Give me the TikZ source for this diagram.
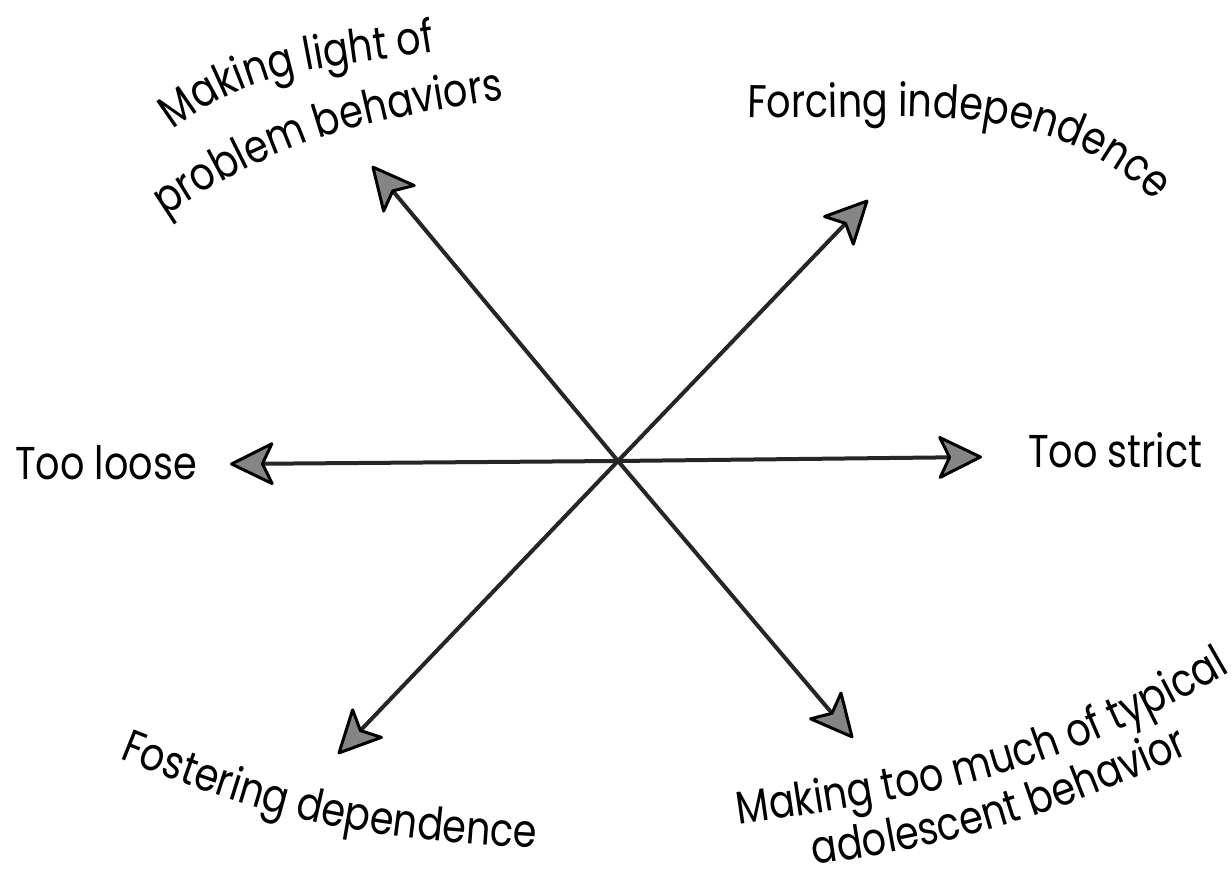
\documentclass[tikz,border=0pt]{standalone}
\usepackage{fontspec}
\newfontfamily\lblfont[FakeStretch=0.83]{Poppins}
\usetikzlibrary{arrows.meta,decorations.text}
\newcommand\lbl{\lblfont\fontsize{46}{50}\selectfont}
\begin{document}
\begin{tikzpicture}[x=1pt,y=1pt,
  shaft/.style={draw=black!85, line width=4pt,
    -{Stealth[length=47pt,width=46pt,inset=11pt,fill=black!48,color=black,line width=3pt,round]}},
  lbltext/.style={font=\lbl, inner sep=0pt},
  curvedtext/.style={decorate, decoration={text along path, text={|\lbl|#1}, text align=center}}
]
\fill[white] (0,0) rectangle (1232,872);
\useasboundingbox (0,0) rectangle (1232,872);

\coordinate (c) at (618,411);
\coordinate (tL) at (230,408);
\coordinate (tR) at (982,415);
\coordinate (tUL) at (372,706);
\coordinate (tUR) at (868,672);
\coordinate (tLL) at (338,118);
\coordinate (tLR) at (853,134);

\draw[shaft] (c) -- (tL);
\draw[shaft] (c) -- (tR);
\draw[shaft] (c) -- (tUL);
\draw[shaft] (c) -- (tUR);
\draw[shaft] (c) -- (tLL);
\draw[shaft] (c) -- (tLR);

\node[lbltext, anchor=base west] (loose) at (15,392) {Too loose};
\node[lbltext, anchor=base west] (strict) at (1028,404) {Too strict};

% upper left
\path[curvedtext={Making light of}] (161,733) to[out=40,in=190] (450,823);
\path[curvedtext={problem behaviors}] (166,656) to[out=34,in=188] (503,772);
% upper right
\path[curvedtext={Forcing independence}] (738,755) to[out=-2,in=135] (1162,664);
% lower left
\path[curvedtext={Fostering dependence}] (123,112) to[out=-22,in=177] (532,24);
% lower right
\path[curvedtext={Making too much of typical}] (742,48) to[out=8,in=210] (1227,198);
\path[curvedtext={adolescent behavior}] (820,8) to[out=8,in=204] (1184,116);
\end{tikzpicture}
\end{document}
